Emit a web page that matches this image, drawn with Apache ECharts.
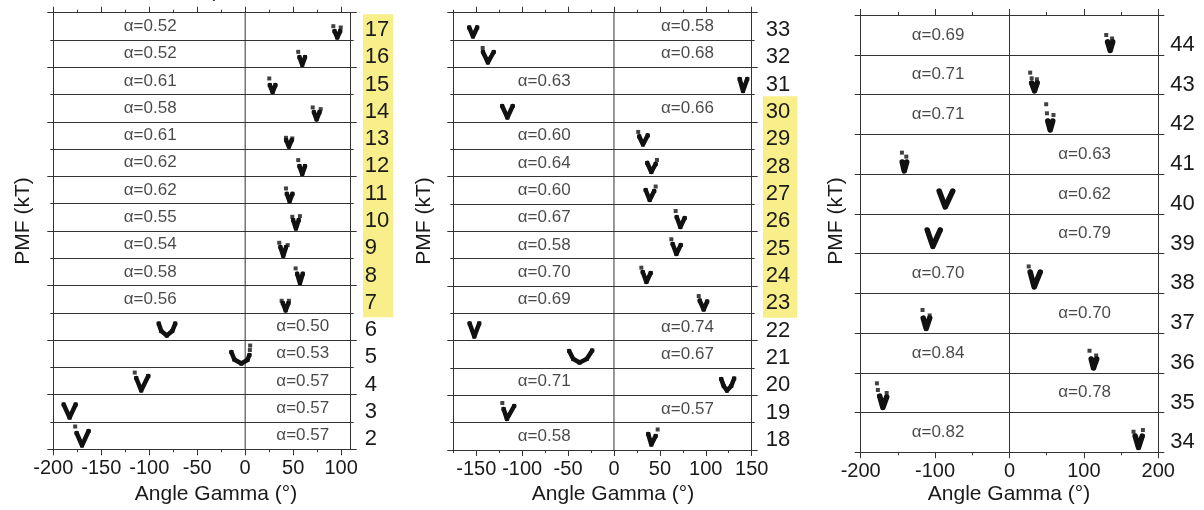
<!DOCTYPE html>
<html><head><meta charset="utf-8">
<script src="https://cdn.jsdelivr.net/npm/echarts@6/dist/echarts.min.js"></script>
<style>html,body{margin:0;padding:0;background:#fff}#c{width:1204px;height:510px}</style>
</head><body><div id="c"></div>
<script>
// ---------- Panel A (rows listed bottom -> top) ----------
const rowsA = [2,3,4,5,6,7,8,9,10,11,12,13,14,15,16,17];
const alphaA = ['0.57','0.57','0.57','0.53','0.50','0.56','0.58','0.54','0.55','0.62','0.62','0.61','0.58','0.61','0.52','0.52'];
const sideA = ['R','R','R','R','R','L','L','L','L','L','L','L','L','L','L','L'];
const highlightA = [7, 17];
const rangeA = [-200, 110];
const xTicksA = [-200,-150,-100,-50,0,50,100];
const xMinorA = [-175,-125,-75,-25,25,75];
const curvesA = [
  [[-175.7,2.39],[-170.1,0.56],[-163.2,2.68]],
  [[-189.2,2.56],[-183.0,0.66],[-176.7,2.56]],
  [[-113.6,2.45],[-108.4,0.62],[-101.0,2.74]],
  [[-14.4,2.26],[-11.3,1.16],[-4.0,0.57],[2.3,1.08],[4.4,1.82]],
  [[-90.1,2.43],[-87.5,1.33],[-81.7,0.67],[-76.0,1.33],[-72.9,2.43]],
  [[39.2,1.44],[42.2,0.37],[45.1,1.44]],
  [[54.2,1.73],[57.1,0.37],[60.0,1.73]],
  [[36.7,1.64],[39.7,0.37],[42.6,1.64]],
  [[50.0,1.60],[52.9,0.37],[55.8,1.60]],
  [[43.4,1.45],[46.3,0.37],[49.3,1.45]],
  [[56.6,1.51],[59.5,0.37],[62.4,1.51]],
  [[42.7,1.32],[45.6,0.37],[48.5,1.32]],
  [[71.6,1.42],[74.5,0.37],[77.5,1.42]],
  [[25.7,1.38],[28.6,0.37],[31.5,1.38]],
  [[56.6,1.48],[59.5,0.37],[62.4,1.48]],
  [[93.1,1.29],[96.0,0.37],[99.0,1.29]]
];
const dotsA = [
  [[-177.2,3.34]], [], [[-115.1,3.25]], [[5.2,3.21],[4.9,2.55]], [],
  [[38.0,1.77],[45.6,1.77]], [[52.6,2.52]], [[35.5,2.27],[44.3,1.93]], [[49.1,2.08],[57.1,2.18]],
  [[42.5,2.24]], [[55.3,2.39]], [[42.5,1.66],[49.1,1.57]], [[70.4,2.11],[78.7,1.86]],
  [[25.1,2.36]], [[55.3,2.26]], [[91.9,2.02],[99.6,1.83]]
];

// ---------- Panel B ----------
const rowsB = [18,19,20,21,22,23,24,25,26,27,28,29,30,31,32,33];
const alphaB = ['0.58','0.57','0.71','0.67','0.74','0.69','0.70','0.58','0.67','0.60','0.64','0.60','0.66','0.63','0.68','0.58'];
const sideB = ['L','R','L','R','R','L','L','L','L','L','L','L','R','L','R','R'];
const highlightB = [23, 30];
const rangeB = [-175, 150];
const xTicksB = [-150,-100,-50,0,50,100,150];
const xMinorB = [-175,-125,-75,-25,25,75,125];
const curvesB = [
  [[37.3,2.34],[40.7,0.80],[45.4,2.05]],
  [[-120.2,2.0],[-116.6,0.54],[-108.7,2.44]],
  [[116.8,2.39],[119.5,1.36],[123.1,0.70],[127.7,1.36],[130.9,2.46]],
  [[-48.8,2.49],[-44.4,1.32],[-37.4,0.80],[-29.7,1.32],[-23.7,2.56]],
  [[-157.2,2.52],[-152.1,0.61],[-146.8,2.52]],
  [[93.4,1.87],[97.7,0.56],[101.5,1.73]],
  [[31.3,2.05],[35.3,0.59],[40.0,1.90]],
  [[63.9,2.15],[68.0,0.69],[72.7,2.0]],
  [[68.3,2.09],[72.3,0.63],[77.0,1.95]],
  [[34.5,2.05],[38.9,0.59],[43.8,1.90]],
  [[36.2,2.01],[40.7,0.69],[45.4,1.86]],
  [[27.5,1.89],[31.6,0.72],[36.7,2.04]],
  [[-121.8,2.34],[-116.1,0.66],[-110.3,2.34]],
  [[136.9,2.30],[140.5,0.54],[145.1,2.30]],
  [[-142.7,2.25],[-137.3,0.72],[-131.0,2.25]],
  [[-157.7,1.84],[-153.6,0.52],[-149.0,1.84]]
];
const dotsB = [
  [[47.6,3.00]], [[-121.6,2.88]], [], [], [],
  [[92.3,2.53]], [[29.8,2.68]], [[62.5,2.84]], [[67.2,2.97]], [[45.4,2.56]],
  [[46.8,2.45]], [[26.4,2.55]], [], [], [[-143.0,2.84]], []
];

// ---------- Panel C ----------
const rowsC = [34,35,36,37,38,39,40,41,42,43,44];
const alphaC = ['0.82','0.78','0.84','0.70','0.70','0.79','0.62','0.63','0.71','0.71','0.69'];
const sideC = ['L','R','L','R','L','R','R','R','L','L','L'];
const highlightC = null;
const rangeC = [-200, 200];
const xTicksC = [-200,-100,0,100,200];
const xMinorC = [-150,-50,50,150];
const curvesC = [
  [[168.9,1.64],[173.4,0.48],[178.4,1.64]],
  [[-174.5,1.66],[-170.2,0.51],[-165.1,1.56]],
  [[109.8,1.39],[112.9,0.48],[117.2,1.39]],
  [[-116.0,1.51],[-112.0,0.46],[-107.3,1.51]],
  [[27.8,2.14],[33.2,0.63],[41.3,2.14]],
  [[-110.6,2.37],[-103.0,0.71],[-93.1,2.37]],
  [[-94.5,2.29],[-86.4,0.68],[-76.3,2.29]],
  [[-144.2,1.21],[-141.5,0.31],[-138.2,1.21]],
  [[51.5,1.34],[54.7,0.43],[58.1,1.34]],
  [[29.8,1.16],[33.6,0.36],[37.2,1.16]],
  [[131.9,1.29],[135.3,0.43],[138.7,1.29]]
];
const dotsC = [
  [[166.7,2.07],[179.3,2.24]],
  [[-178.2,2.94],[-176.9,2.27],[-165.1,1.97]],
  [[107.5,2.22],[116.5,1.74]],
  [[-116.9,2.32],[-107.3,1.77]],
  [[25.8,2.70]], [], [],
  [[-144.6,2.15],[-138.7,1.75]],
  [[49.3,3.02],[50.3,2.11],[59.1,1.94]],
  [[27.8,2.20],[29.8,1.63],[36.8,1.53]],
  [[130.0,1.99],[137.9,1.64]]
];

const xTitle = 'Angle Gamma (°)';
const yTitle = 'PMF (kT)';

// ---------- layout / style ----------
const FF = '"Liberation Sans", Arial, Helvetica, sans-serif';
const LC = '#333';
const TC = '#1a1a1a';
const CC = '#111';
const PMF_MAX = 4;

const panels = [
  {rows:rowsA, alpha:alphaA, side:sideA, hl:highlightA, range:rangeA, ticks:xTicksA, minor:xMinorA, curves:curvesA, dots:dotsA,
   left:53.3, top:12.7, width:297.4, height:436.6, yInt:2, aL:-99, aR:60, labOff:0.37, labMargin:14,
   hlX:363, hlW:30, yT:[23,221], xT:[216,494], lw:4.5},
  {rows:rowsB, alpha:alphaB, side:sideB, hl:highlightB, range:rangeB, ticks:xTicksB, minor:xMinorB, curves:curvesB, dots:dotsB,
   left:453.3, top:12.7, width:298.4, height:437.3, yInt:2, aL:-76, aR:80, labOff:0.37, labMargin:14,
   hlX:763, hlW:34, yT:[424,221], xT:[613,494], lw:4.5},
  {rows:rowsC, alpha:alphaC, side:sideC, hl:highlightC, range:rangeC, ticks:xTicksC, minor:xMinorC, curves:curvesC, dots:dotsC,
   left:860.7, top:15, width:297.6, height:437.3, yInt:1, aL:-96, aR:101, labOff:0.25, labMargin:12,
   hlX:0, hlW:0, yT:[836,221], xT:[1009,494], lw:5.5}
];

const option = {animation:false, grid:[], xAxis:[], yAxis:[], series:[], graphic:[]};

function xAx(g, P, pos, ticks, len, labels) {
  return {gridIndex:g, type:'value', min:P.range[0], max:P.range[1], position:pos,
    axisLine:{show:true, onZero:false, lineStyle:{color:LC, width:1}},
    axisTick:{show:true, length:len, customValues:ticks, lineStyle:{color:LC, width:1}},
    axisLabel: labels ? {show:true, customValues:ticks, fontSize:20, color:TC, fontFamily:FF, margin:9} : {show:false},
    splitLine:{show:false}, minorTick:{show:false}, axisPointer:{show:false}};
}

panels.forEach(P => {
  const n = P.rows.length;
  const g = option.grid.length;
  option.grid.push({left:P.left, top:P.top, width:P.width, height:P.height, containLabel:false, outerBoundsMode:'none'});
  const xb = option.xAxis.length;
  option.xAxis.push(xAx(g, P, 'bottom', P.ticks, 6, true));
  option.xAxis.push(xAx(g, P, 'top', P.ticks, 6, false));
  const minB = xAx(g, P, 'bottom', P.minor, 3, false); minB.axisLine.show = false; option.xAxis.push(minB);
  const minT = xAx(g, P, 'top', P.minor, 3, false); minT.axisLine.show = false; option.xAxis.push(minT);
  const yl = option.yAxis.length;
  const yBase = (pos) => ({gridIndex:g, type:'value', min:0, max:n, interval:P.yInt, position:pos,
    axisLine:{show:true, onZero:false, lineStyle:{color:LC, width:1}},
    axisTick:{show:true, length:6, lineStyle:{color:LC, width:1}},
    minorTick:{show:P.yInt===2, splitNumber:2, length:3, lineStyle:{color:LC, width:1}},
    axisPointer:{show:false}});
  const yL = yBase('left');
  yL.splitLine = {show:true, lineStyle:{color:LC, width:1}};
  yL.minorSplitLine = {show:P.yInt===2, lineStyle:{color:LC, width:1}};
  yL.axisLabel = {show:false};
  option.yAxis.push(yL);
  const yR = yBase('right');
  yR.splitLine = {show:false};
  yR.minorSplitLine = {show:false};
  yR.z = 10;
  yR.axisLabel = {show:true, customValues:P.rows.map((r,i)=>i+P.labOff),
    formatter: v => String(P.rows[Math.round(v-P.labOff)]),
    fontSize:22, color:TC, fontFamily:FF, margin:P.labMargin};
  option.yAxis.push(yR);
  // zero line
  option.series.push({type:'line', xAxisIndex:xb, yAxisIndex:yl, data:[[0,0],[0,n]], symbol:'none',
    lineStyle:{color:LC, width:1}, silent:true, z:1});

  const h = P.height / n;
  P.rows.forEach((r, i) => {
    const gi = option.grid.length;
    option.grid.push({left:P.left, top:P.top + P.height - (i+1)*h, width:P.width, height:h, containLabel:false, outerBoundsMode:'none'});
    const xi = option.xAxis.length, yi = option.yAxis.length;
    option.xAxis.push({gridIndex:gi, type:'value', min:P.range[0], max:P.range[1], show:false});
    option.yAxis.push({gridIndex:gi, type:'value', min:0, max:PMF_MAX, show:false});
    option.series.push({type:'line', xAxisIndex:xi, yAxisIndex:yi, data:P.curves[i],
      symbol:'rect', symbolSize:4, showSymbol:true, clip:false, silent:true, z:3,
      itemStyle:{color:CC}, lineStyle:{color:CC, width:P.lw, join:'round', cap:'round'}});
    if (P.dots[i].length) option.series.push({type:'scatter', xAxisIndex:xi, yAxisIndex:yi, data:P.dots[i],
      symbol:'rect', symbolSize:4, clip:false, silent:true, z:3, itemStyle:{color:CC}});
    option.series.push({type:'scatter', xAxisIndex:xi, yAxisIndex:yi,
      data:[[P.side[i]==='L' ? P.aL : P.aR, PMF_MAX/2]], symbolSize:1, silent:true, z:4,
      itemStyle:{color:'rgba(0,0,0,0)'},
      label:{show:true, position:'inside', formatter:'α=' + P.alpha[i], fontSize:17, color:TC, fontFamily:FF}});
  });

  if (P.hl) {
    const iB = P.rows.indexOf(P.hl[0]), iT = P.rows.indexOf(P.hl[1]);
    const yTop = P.top + P.height - (iT+1)*h + 1.5;
    const yBot = P.top + P.height - iB*h + 4.5;
    option.graphic.push({type:'rect', z:-10, silent:true,
      shape:{x:P.hlX, y:yTop, width:P.hlW, height:yBot-yTop}, style:{fill:'#f8ee8a'}});
  }
  option.graphic.push({type:'text', x:P.yT[0], y:P.yT[1], rotation:Math.PI/2, silent:true,
    style:{text:yTitle, font:'21px ' + FF, fill:TC, align:'center', verticalAlign:'middle'}});
  option.graphic.push({type:'text', x:P.xT[0], y:P.xT[1], silent:true,
    style:{text:xTitle, font:'21px ' + FF, fill:TC, align:'center', verticalAlign:'middle'}});
});
option.graphic.push({type:'text', x:216, y:-9, silent:true,
  style:{text:')', font:'21px ' + FF, fill:TC, align:'center', verticalAlign:'middle'}});

const chart = echarts.init(document.getElementById('c'), null, {renderer:'canvas'});
chart.setOption(option);
</script></body></html>
